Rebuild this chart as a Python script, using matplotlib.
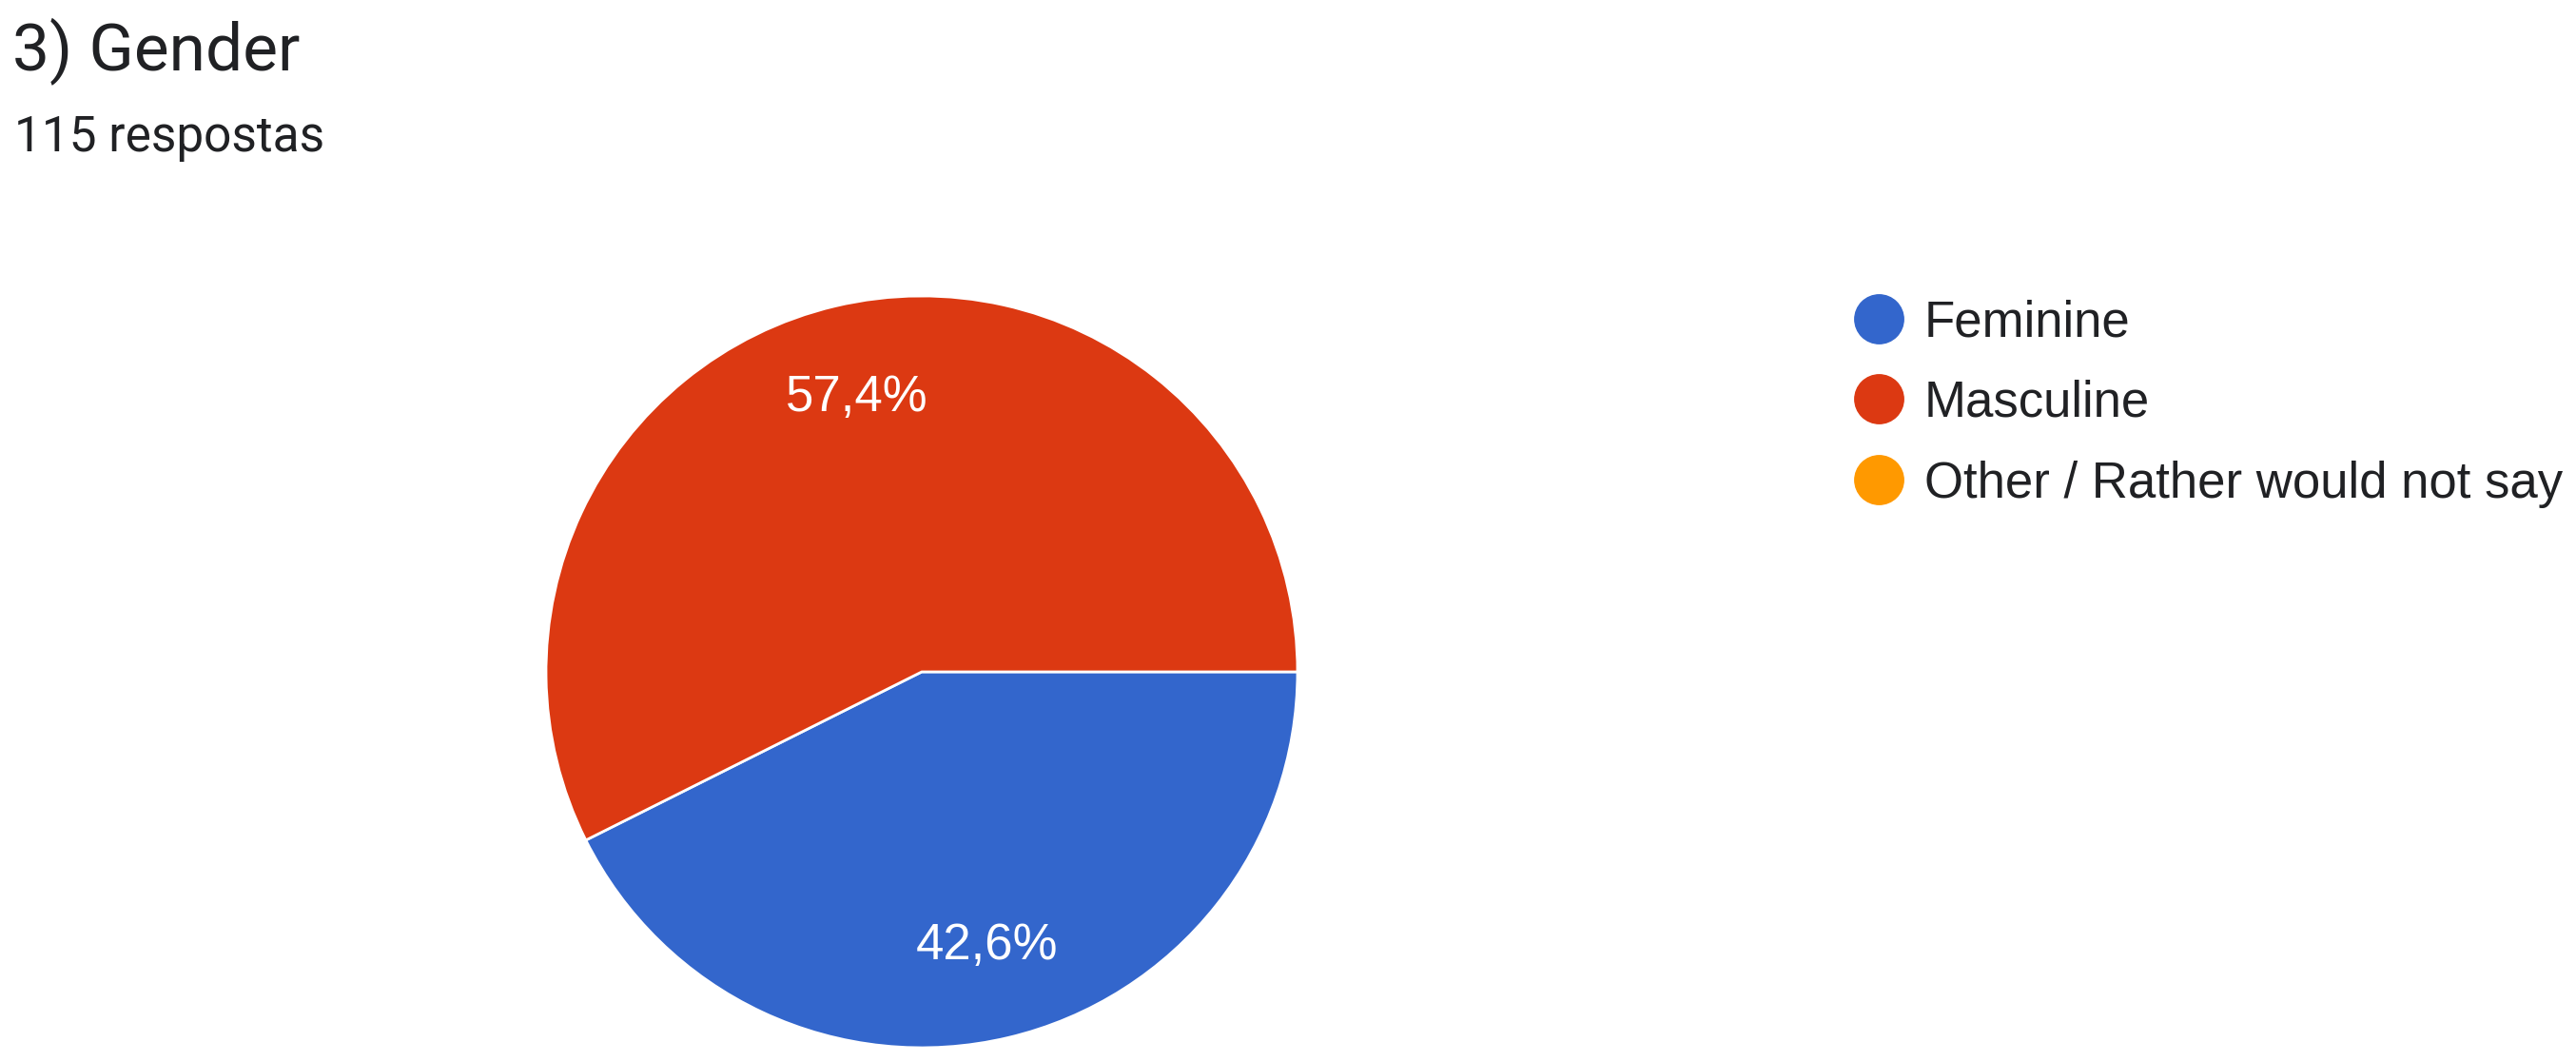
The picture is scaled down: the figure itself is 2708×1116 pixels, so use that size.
import matplotlib.pyplot as plt
from matplotlib.lines import Line2D

# Survey data
title = "3) Gender"
subtitle = "115 respostas"
categories = ["Feminine", "Masculine", "Other / Rather would not say"]
counts = [49, 66, 0]
colors = ["#3366CC", "#DC3912", "#FF9900"]

W, H = 2708, 1116
fig = plt.figure(figsize=(W / 100, H / 100), dpi=100)

# Title block
fig.text(13 / W, 1 - 73 / H, title, fontsize=50, family="Roboto", color="#202124")
fig.text(15 / W, 1 - 159 / H, subtitle, fontsize=37, family="Roboto", color="#202124")

# Pie: centre (969, 706) px, radius 395 px
cx, cy, r = 969, 706, 395
ax = fig.add_axes([(cx - r) / W, (H - cy - r) / H, 2 * r / W, 2 * r / H])

vals = [c for c in counts if c > 0]
cols = [col for c, col in zip(counts, colors) if c > 0]
wedges, texts, autotexts = ax.pie(
    vals, colors=cols, startangle=0, counterclock=False,
    autopct=lambda p: f"{p:.1f}%".replace(".", ","), pctdistance=0.75,
    wedgeprops=dict(edgecolor="white", linewidth=2),
    textprops=dict(color="white", fontsize=38, family="Liberation Sans"),
)
ax.set_xlim(-1, 1)
ax.set_ylim(-1, 1)

# Legend
handles = [Line2D([], [], marker="o", linestyle="", markersize=37,
                  markerfacecolor=c, markeredgecolor=c) for c in colors]
fig.legend(handles, categories, loc="upper left",
           bbox_to_anchor=(1949 / W, 1 - 314 / H), frameon=False,
           prop=dict(family="Liberation Sans", size=38),
           labelspacing=0.66, handletextpad=0.4, handlelength=1.0,
           borderaxespad=0, borderpad=0, labelcolor="#202124")

fig.savefig("out.png", dpi=100, facecolor="white")
